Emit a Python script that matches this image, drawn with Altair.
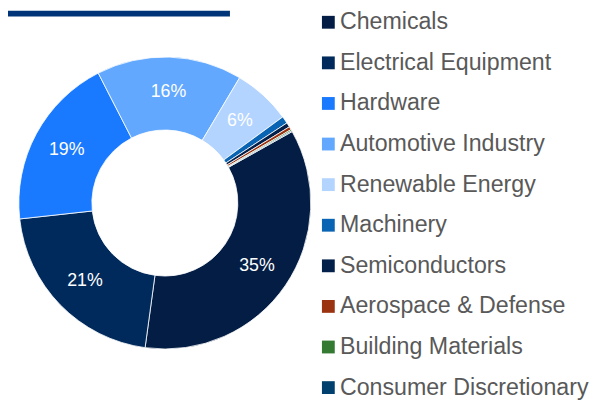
import math
import altair as alt
import pandas as pd

categories = ["Chemicals", "Electrical Equipment", "Hardware", "Automotive Industry",
              "Renewable Energy", "Machinery", "Semiconductors", "Aerospace & Defense",
              "Building Materials", "Consumer Discretionary"]
values = [35.3, 21.1, 19.2, 16.1, 6.4, 0.8, 0.5, 0.35, 0.15, 0.1]
colors = ["#031d44", "#002a5c", "#1a7aff", "#62a8ff", "#b3d4ff",
          "#0a64b4", "#03204a", "#9b3310", "#357a32", "#00406e"]

df = pd.DataFrame({"category": categories, "value": values,
                   "order": list(range(len(categories)))})

start = math.radians(60.7)
theta_scale = alt.Scale(range=[start, start + 2 * math.pi])
FONT = "Liberation Sans"
CX, CY = 159, 195

base = alt.Chart(df).transform_joinaggregate(
    total="sum(value)"
).transform_calculate(
    label="datum.value / datum.total >= 0.05 ? format(datum.value / datum.total, '.0%') : ''"
)

arc = base.mark_arc(innerRadius=74, outerRadius=148, stroke="white", strokeWidth=0.8).encode(
    theta=alt.Theta("value:Q", stack=True, scale=theta_scale),
    color=alt.Color(
        "category:N",
        scale=alt.Scale(domain=categories, range=colors),
        sort=categories,
        legend=alt.Legend(
            title=None, orient="none", legendX=311, legendY=0,
            symbolType="square", symbolSize=169, symbolStrokeWidth=0, symbolOffset=2,
            labelFont=FONT, labelFontSize=23.5, labelColor="#595959",
            labelOffset=0, rowPadding=16.15, padding=0, labelLimit=400,
        ),
    ),
    order=alt.Order("order:Q"),
    x=alt.value(CX),
    y=alt.value(CY),
)

text = base.mark_text(radius=113, fontSize=18, font=FONT, color="white").encode(
    theta=alt.Theta("value:Q", stack=True, scale=theta_scale),
    text=alt.Text("label:N"),
    order=alt.Order("order:Q"),
    x=alt.value(CX),
    y=alt.value(CY),
)

bar = alt.Chart(alt.Data(values=[{}])).mark_rect(color="#003478").encode(
    x=alt.value(0), x2=alt.value(225), y=alt.value(0), y2=alt.value(6)
)

chart = alt.layer(bar, arc, text).properties(
    width=590, height=395, autosize="none", padding=0
).configure_view(stroke=None)

chart.save("out.html", embed_options={"renderer": "svg", "actions": False})
